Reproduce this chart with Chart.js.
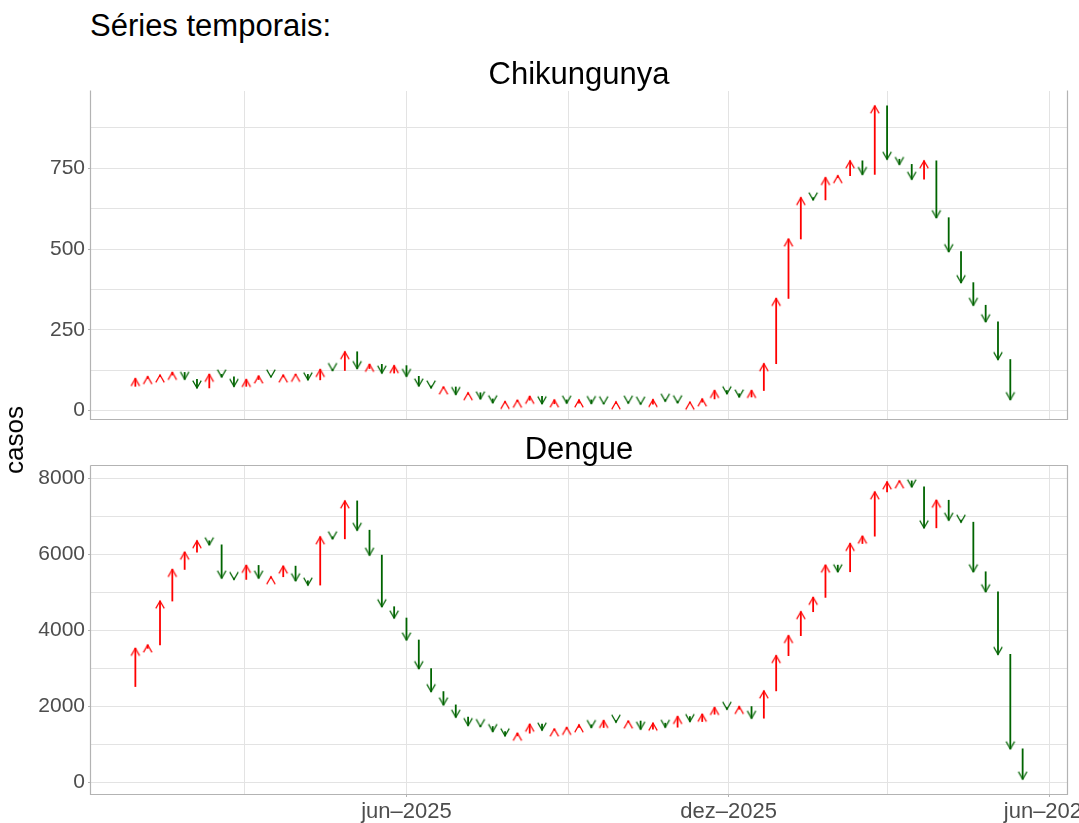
<!DOCTYPE html>
<html><head><meta charset="utf-8">
<script src="https://cdn.jsdelivr.net/npm/chart.js@4.4.1/dist/chart.umd.min.js"></script>
<style>
html,body{margin:0;padding:0;background:#fff;overflow:hidden;width:1079px;height:823px;}
body{position:relative;font-family:"Liberation Sans",Arial,sans-serif;}
.t{position:absolute;line-height:1;white-space:nowrap;color:#000;z-index:2;}
canvas{position:absolute;left:0;}
</style></head><body>
<div class="t" style="left:90px;top:10px;font-size:31px;">Séries temporais:</div>
<div class="t" style="left:91px;width:976px;text-align:center;top:58px;font-size:31px;">Chikungunya</div>
<div class="t" style="left:91px;width:976px;text-align:center;top:433px;font-size:31px;">Dengue</div>
<div class="t" style="left:14px;top:440px;font-size:26px;transform:translate(-50%,-50%) rotate(-90deg);">casos</div>
<canvas id="c1" width="1120" height="369" style="top:71px"></canvas>
<canvas id="c2" width="1120" height="377" style="top:446px"></canvas>
<script>
// Weekly dates (first entry = week before the first arrow, used as arrow base)
const weeks = ["2024-12-22","2024-12-29","2025-01-05","2025-01-12","2025-01-19","2025-01-26","2025-02-02","2025-02-09","2025-02-16","2025-02-23",
"2025-03-02","2025-03-09","2025-03-16","2025-03-23","2025-03-30","2025-04-06","2025-04-13","2025-04-20","2025-04-27","2025-05-04",
"2025-05-11","2025-05-18","2025-05-25","2025-06-01","2025-06-08","2025-06-15","2025-06-22","2025-06-29","2025-07-06","2025-07-13",
"2025-07-20","2025-07-27","2025-08-03","2025-08-10","2025-08-17","2025-08-24","2025-08-31","2025-09-07","2025-09-14","2025-09-21",
"2025-09-28","2025-10-05","2025-10-12","2025-10-19","2025-10-26","2025-11-02","2025-11-09","2025-11-16","2025-11-23","2025-11-30",
"2025-12-07","2025-12-14","2025-12-21","2025-12-28","2026-01-04","2026-01-11","2026-01-18","2026-01-25","2026-02-01","2026-02-08",
"2026-02-15","2026-02-22","2026-03-01","2026-03-08","2026-03-15","2026-03-22","2026-03-29","2026-04-05","2026-04-12","2026-04-19",
"2026-04-26","2026-05-03","2026-05-10","2026-05-17"];

// Chikungunya weekly cases (index 0 = base value before first arrow)
const chikungunya = [75,99,105,110,118,97,70,112,104,75,
96,107,104,110,112,95,127,124,182,130,
143,116,139,106,76,70,73,50,55,36,
24,28,32,44,21,33,23,33,22,21,
27,23,20,34,29,24,26,36,62,52,
42,62,145,347,531,659,652,721,727,773,
731,943,778,762,716,773,597,492,396,326,
275,158,34];

// Dengue weekly cases (index 0 = base value before first arrow)
const dengue = [2518,3526,3614,4772,5605,6061,6360,6254,5377,5342,
5711,5377,5412,5693,5307,5193,6465,6412,7412,6640,
5982,4623,4325,3746,2991,2386,2035,1711,1491,1465,
1333,1219,1289,1526,1370,1400,1439,1509,1439,1623,
1580,1610,1395,1553,1447,1728,1596,1789,1965,1921,
1991,1684,2404,3333,3860,4491,4868,5719,5544,6289,
6482,7649,7912,7939,7781,6702,7430,6904,6851,5544,
5018,3368,877,79];

const xTickDates  = ["2025-03-01","2025-06-01","2025-09-01","2025-12-01","2026-03-01","2026-06-01"];
const xTickLabels = ["","jun\u20132025","","dez\u20132025","","jun\u20132026"];
const chikTicks  = [0,125,250,375,500,625,750,875];
const chikLabels = ["0","","250","","500","","750",""];
const dengueTicks  = [0,1000,2000,3000,4000,5000,6000,7000,8000];
const dengueLabels = ["0","","2000","","4000","","6000","","8000"];

const RED = '#ff0000', GREEN = '#006400', GRID = '#e3e3e3', TICKC = '#b3b3b3', TXT = '#4d4d4d';
Chart.defaults.font.family = '"Liberation Sans", Arial, sans-serif';

const day = s => Date.parse(s) / 86400000;
const xTickDays = xTickDates.map(day);
const firstDay = day(weeks[1]), lastDay = day(weeks[weeks.length - 1]);
const xMin = firstDay - 0.05 * (lastDay - firstDay);
const xMax = lastDay + 0.05 * (lastDay - firstDay);

function makeHead(up, color) {
  const L = 8.5, a = Math.PI / 6;
  const hw = L * Math.sin(a), hh = L * Math.cos(a);
  const c = document.createElement('canvas');
  c.width = 16; c.height = 22;
  const g = c.getContext('2d');
  const cx = 8, cy = 11, s = up ? 1 : -1;
  g.strokeStyle = color; g.lineWidth = 1.2; g.lineJoin = 'miter'; g.lineCap = 'butt';
  g.beginPath();
  g.moveTo(cx - hw, cy + s * hh); g.lineTo(cx, cy); g.lineTo(cx + hw, cy + s * hh);
  g.stroke();
  return c;
}
const headUp = makeHead(true, RED), headDown = makeHead(false, GREEN);

const panelBorder = {
  id: 'panelBorder',
  afterDatasetsDraw(chart, args, opts) {
    const { left, right, top, bottom } = chart.chartArea;
    const ctx = chart.ctx;
    const L = Math.round(left) - 0.5, R = Math.round(right) + 0.5, T = Math.round(top) - 0.5, B = Math.round(bottom) + 0.5;
    ctx.save();
    ctx.strokeStyle = TICKC; ctx.lineWidth = 1.2;
    ctx.beginPath();
    ctx.moveTo(L, T); ctx.lineTo(L, B); ctx.lineTo(R, B); ctx.lineTo(R, T);
    if (opts.top) ctx.lineTo(L, T);
    ctx.stroke();
    ctx.restore();
  }
};

function build(id, vals, yTicks, yLabels, isBottom, pad) {
  const shafts = [], heads = [], colors = [], styles = [];
  for (let i = 1; i < vals.length; i++) {
    const x = day(weeks[i]);
    const up = vals[i] >= vals[i - 1];
    shafts.push({ x: x, y: [vals[i - 1], vals[i]] });
    heads.push({ x: x, y: vals[i] });
    colors.push(up ? RED : GREEN);
    styles.push(up ? headUp : headDown);
  }
  const lo = Math.min(...vals), hi = Math.max(...vals), ext = (hi - lo) * 0.05;
  return new Chart(document.getElementById(id), {
    type: 'scatter',
    data: { datasets: [
      { type: 'bar', data: shafts, backgroundColor: colors, borderWidth: 0, barThickness: 1.15, clip: false, order: 2 },
      { type: 'scatter', data: heads, pointStyle: styles, pointRadius: 5, clip: false, order: 1 }
    ] },
    options: {
      responsive: false, animation: false, events: [],
      layout: { padding: pad },
      plugins: { legend: { display: false }, tooltip: { enabled: false }, panelBorder: { top: isBottom } },
      scales: {
        x: {
          type: 'linear', min: xMin, max: xMax, offset: false,
          grid: { offset: false, color: GRID, lineWidth: 1, drawTicks: isBottom, tickLength: 3,
                  tickColor: c => xTickLabels[c.index] ? TICKC : 'rgba(0,0,0,0)' },
          border: { display: false },
          ticks: { display: isBottom, autoSkip: false, maxRotation: 0, minRotation: 0, padding: 2, color: TXT,
                   font: { size: 22 }, callback: (v, i) => xTickLabels[i] },
          afterBuildTicks: s => { s.ticks = xTickDays.map(v => ({ value: v })); },
          afterFit: s => { s.height = isBottom ? 29 : 0; }
        },
        y: {
          type: 'linear', min: lo - ext, max: hi + ext,
          grid: { color: GRID, lineWidth: 1, drawTicks: true, tickLength: 3,
                  tickColor: c => yLabels[c.index] ? TICKC : 'rgba(0,0,0,0)' },
          border: { display: false },
          ticks: { autoSkip: false, padding: 3, color: TXT, font: { size: 21 }, callback: (v, i) => yLabels[i] },
          afterBuildTicks: s => { s.ticks = yTicks.map(v => ({ value: v })); },
          afterFit: s => { s.width = 91; }
        }
      }
    },
    plugins: [panelBorder]
  });
}

build('c1', chikungunya, chikTicks, chikLabels, false, { top: 20, right: 53, bottom: 21, left: 0 });
build('c2', dengue, dengueTicks, dengueLabels, true, { top: 20, right: 53, bottom: 0, left: 0 });
</script>
</body></html>
